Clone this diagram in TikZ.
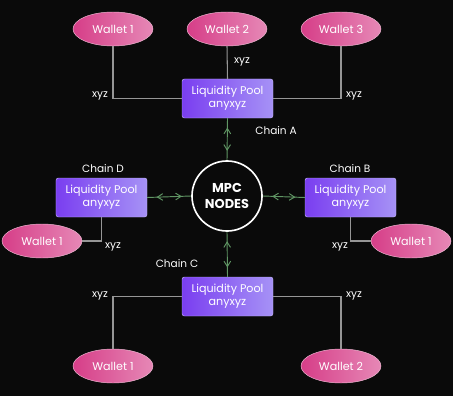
\documentclass[tikz,border=0pt]{standalone}
\usepackage{fontspec}
\setmainfont{Poppins}
\usepackage{tikz}
\usetikzlibrary{positioning,arrows.meta,shapes.geometric,decorations.markings}
\definecolor{bgblack}{RGB}{10,10,10}
\definecolor{poolleft}{RGB}{122,62,240}
\definecolor{poolright}{RGB}{166,146,246}
\definecolor{walletleft}{RGB}{214,62,136}
\definecolor{walletright}{RGB}{230,136,182}
\definecolor{wiregray}{RGB}{150,150,150}
\definecolor{chaingreen}{RGB}{96,150,100}

\begin{document}
\begin{tikzpicture}[
  x=0.03cm, y=-0.03cm,
  every node/.style={font=\fontsize{9.5}{11}\selectfont, text=white},
  pool/.style={rectangle, rounded corners=2pt, minimum width=2.73cm, minimum height=1.17cm,
    left color=poolleft, right color=poolright, draw=poolright!70, line width=0.4pt,
    align=center, inner sep=0pt},
  wallet/.style={ellipse, minimum width=2.4cm, minimum height=1.02cm,
    left color=walletleft, right color=walletright, draw=walletright!60, line width=0.4pt, inner sep=0pt},
  mpc/.style={circle, draw=white, line width=1.4pt, fill=bgblack, minimum size=2.1cm,
    align=center, font=\fontsize{11}{13}\selectfont\bfseries},
  wire/.style={draw=wiregray, line width=0.9pt},
  link/.style={draw=chaingreen, line width=0.8pt, postaction={decorate},
    decoration={markings,
      mark=at position 8pt with {\arrowreversed{Straight Barb[length=1.6mm,width=2mm]}},
      mark=at position -8pt with {\arrow{Straight Barb[length=1.6mm,width=2mm]}}}},
  lbl/.style={font=\fontsize{9}{11}\selectfont}
]
\fill[bgblack] (0,0) rectangle (453,396);
\useasboundingbox (0,0) rectangle (453,396);

% centre
\node[mpc] (mpc) at (227,196) {MPC\\NODES};

% pools
\node[pool] (poolA) at (227.5,98.5) {Liquidity Pool\\anyxyz};
\node[pool] (poolB) at (350.5,197.5) {Liquidity Pool\\anyxyz};
\node[pool] (poolC) at (227.5,296.5) {Liquidity Pool\\anyxyz};
\node[pool] (poolD) at (101.5,197.5) {Liquidity Pool\\anyxyz};

\node[lbl] at (276,131) {Chain A};
\node[lbl] at (350,169) {Chain B};
\node[lbl] at (177,264) {Chain C};
\node[lbl] at (103,169) {Chain D};

% wallets
\node[wallet] (wA1) at (113,29) {Wallet 1};
\node[wallet] (wA2) at (227,29) {Wallet 2};
\node[wallet] (wA3) at (341,29) {Wallet 3};
\node[wallet] (wD1) at (42,241) {Wallet 1};
\node[wallet] (wB1) at (411,241) {Wallet 1};
\node[wallet] (wC1) at (113,366) {Wallet 1};
\node[wallet] (wC2) at (341,366) {Wallet 2};

% wallet wires
\draw[wire] (wA1.south) |- (poolA.west);
\draw[wire] (wA2.south) -- (poolA.north);
\draw[wire] (wA3.south) |- (poolA.east);
\draw[wire] (poolD.south) |- (wD1.east);
\draw[wire] (poolB.south) |- (wB1.west);
\draw[wire] (poolC.west) -| (wC1.north);
\draw[wire] (poolC.east) -| (wC2.north);

\node[lbl] at (100,96) {xyz};
\node[lbl] at (242,62) {xyz};
\node[lbl] at (354,96) {xyz};
\node[lbl] at (113,247) {xyz};
\node[lbl] at (340,247) {xyz};
\node[lbl] at (100,296) {xyz};
\node[lbl] at (354,296) {xyz};

% chain links
\draw[link] (poolA.south) -- (mpc.north);
\draw[link] (poolB.west) -- (mpc.east);
\draw[link] (poolC.north) -- (mpc.south);
\draw[link] (poolD.east) -- (mpc.west);
\end{tikzpicture}
\end{document}
